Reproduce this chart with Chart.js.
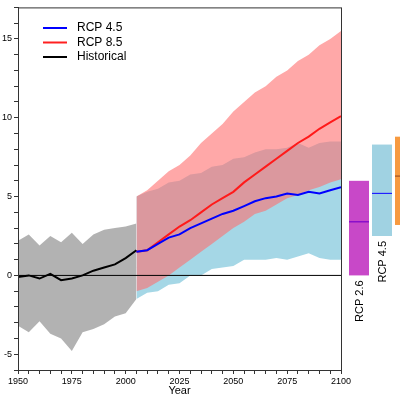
<!DOCTYPE html>
<html><head><script src="https://cdn.jsdelivr.net/npm/chart.js@4"></script>
<style>body{margin:0;background:#fff}#w{width:400px;height:400px}</style></head>
<body><div id="w"><canvas id="c"></canvas></div>
<script>
const histYears=[1950,1955,1960,1965,1970,1975,1980,1985,1990,1995,2000,2005];
const histTop=[2.2,2.6,1.9,2.5,2.1,2.7,2.0,2.6,2.9,3.0,3.1,3.3];
const histBot=[-3.2,-3.6,-2.9,-3.7,-4.0,-4.8,-3.6,-3.4,-3.1,-2.6,-2.4,-1.5];
const histMean=[-0.1,0.0,-0.2,0.1,-0.3,-0.2,0.0,0.3,0.5,0.7,1.1,1.6];
const projYears=[2005,2010,2015,2020,2025,2030,2035,2040,2045,2050,2055,2060,2065,2070,2075,2080,2085,2090,2095,2100];
const r85Top=[5.0,5.4,6.0,6.6,7.0,7.6,8.4,9.0,9.6,10.4,11.0,11.6,12.0,12.6,13.0,13.6,14.0,14.6,15.0,15.5];
const r85Bot=[-1.0,-0.8,-0.4,0.0,0.5,1.0,1.5,2.0,2.5,3.0,3.4,3.9,4.1,4.5,4.9,5.1,5.4,5.6,5.9,6.1];
const r85Mean=[1.5,1.6,2.1,2.6,3.1,3.5,4.0,4.5,4.9,5.3,5.9,6.4,6.9,7.4,7.9,8.4,8.8,9.3,9.7,10.1];
const r45Top=[5.0,5.3,5.5,5.9,6.0,6.4,6.5,6.9,7.0,7.4,7.5,7.8,8.0,8.0,8.1,8.4,8.1,8.4,8.5,8.5];
const r45Bot=[-1.5,-1.1,-1.0,-0.6,-0.5,0.0,0.0,0.4,0.5,0.6,1.0,1.0,1.0,1.1,1.0,1.2,1.4,1.1,1.0,1.0];
const r45Mean=[1.5,1.6,2.0,2.4,2.6,3.0,3.3,3.6,3.9,4.1,4.4,4.7,4.9,5.0,5.2,5.1,5.3,5.2,5.4,5.6];
const barLabels=['RCP 2.6','RCP 4.5','RCP 8.5'];
const barLow=[0.0,2.5,3.2];
const barHigh=[6.0,8.3,8.8];
const barMedian=[3.4,5.2,6.3];
const barColors=['#c848c8','#a0d2e2','#f79a40'];
const barMedColors=['#7a00cc','#2020ff','#a05020'];
const yTicks=[-5,0,5,10,15];
const xTicks=[1950,1975,2000,2025,2050,2075,2100];
const pts=(xs,ys)=>xs.map((x,i)=>({x,y:ys[i]}));
const F='Liberation Sans, Arial, sans-serif';
const extras={id:'extras',afterDraw(ch){
 const {ctx,chartArea:a,scales:{y}}=ch;
 ctx.save();
 ctx.strokeStyle='#333';ctx.lineWidth=1;ctx.strokeRect(a.left+0.5,a.top+0.5,a.right-a.left,a.bottom-a.top);
 const xs=[349,372,395],w=20;
 for(let i=0;i<3;i++){
  const t=y.getPixelForValue(barHigh[i]),b=y.getPixelForValue(barLow[i]),m=y.getPixelForValue(barMedian[i]);
  ctx.fillStyle=barColors[i];ctx.fillRect(xs[i],t,w,b-t);
  ctx.strokeStyle=barMedColors[i];ctx.lineWidth=1.2;ctx.beginPath();ctx.moveTo(xs[i],m);ctx.lineTo(xs[i]+w,m);ctx.stroke();
  ctx.save();ctx.translate(xs[i]+w/2+4,b+5);ctx.rotate(-Math.PI/2);ctx.fillStyle='#000';ctx.font='11px '+F;ctx.textAlign='right';ctx.fillText(barLabels[i],0,0);ctx.restore();
 }
 const L=[['RCP 4.5','#0000ff'],['RCP 8.5','#ff2020'],['Historical','#000']];
 L.forEach((l,i)=>{const yy=28+i*14.5;ctx.strokeStyle=l[1];ctx.lineWidth=2;ctx.beginPath();ctx.moveTo(43,yy);ctx.lineTo(67,yy);ctx.stroke();
  ctx.fillStyle='#000';ctx.font='12px '+F;ctx.textBaseline='middle';ctx.fillText(l[0],77,yy);});
 ctx.restore();}};
new Chart(document.getElementById('c'),{type:'line',
data:{datasets:[
 {data:pts(histYears,histTop),borderWidth:0,pointRadius:0,fill:'+1',backgroundColor:'rgba(170,170,170,0.9)',order:5},
 {data:pts(histYears,histBot),borderWidth:0,pointRadius:0,fill:false,order:5},
 {data:pts(projYears,r45Top),borderWidth:0,pointRadius:0,fill:'+1',backgroundColor:'rgb(165,215,230)',order:4},
 {data:pts(projYears,r45Bot),borderWidth:0,pointRadius:0,fill:false,order:4},
 {data:pts(projYears,r85Top),borderWidth:0,pointRadius:0,fill:'+1',backgroundColor:'rgba(255,110,110,0.6)',order:3},
 {data:pts(projYears,r85Bot),borderWidth:0,pointRadius:0,fill:false,order:3},
 {data:[{x:1950,y:0},{x:2100,y:0}],borderColor:'#000',borderWidth:1,pointRadius:0,order:2},
 {data:pts(histYears,histMean),borderColor:'#000',borderWidth:2,pointRadius:0,order:1},
 {data:pts(projYears,r85Mean),borderColor:'#ff1a1a',borderWidth:2,pointRadius:0,order:1},
 {data:pts(projYears,r45Mean),borderColor:'#0000ff',borderWidth:2,pointRadius:0,order:0}
]},
options:{responsive:true,maintainAspectRatio:false,animation:false,
 layout:{padding:{right:59,top:6,left:0,bottom:0}},
 plugins:{legend:{display:false},tooltip:{enabled:false}},
 scales:{
  x:{type:'linear',min:1950,max:2100,grid:{drawOnChartArea:false,tickLength:4,color:'#333'},border:{color:'#333'},
   ticks:{stepSize:5,autoSkip:false,maxRotation:0,minRotation:0,font:{size:9,family:F},color:'#000',padding:2,callback:v=>xTicks.includes(v)?String(v):''},
   title:{display:true,text:'Year',font:{size:11,family:F},color:'#000',padding:{top:1,bottom:2}},
   afterFit(s){s.height=30;}},
  y:{min:-6,max:17,grid:{drawOnChartArea:false,tickLength:4,color:'#333'},border:{color:'#333'},
   ticks:{stepSize:1,autoSkip:false,font:{size:9,family:F},color:'#000',padding:2,callback:v=>yTicks.includes(v)?String(v):''},
   afterFit(s){s.width=18;}}
 }},plugins:[extras]});
</script></body></html>
